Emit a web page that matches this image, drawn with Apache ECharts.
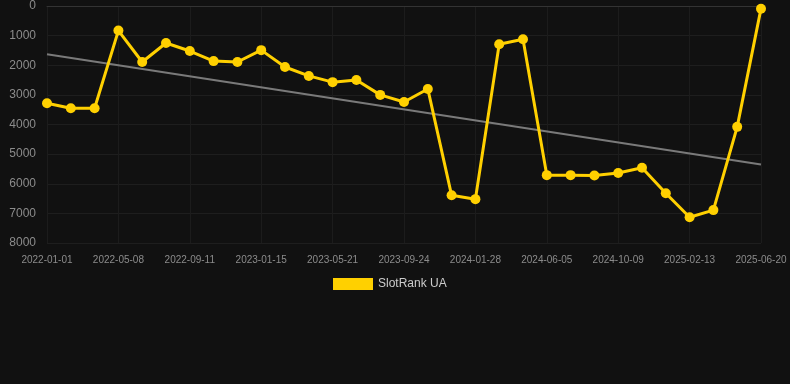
<!DOCTYPE html>
<html>
<head>
<meta charset="utf-8">
<script src="https://cdn.jsdelivr.net/npm/echarts@6/dist/echarts.min.js"></script>
<style>
html,body{margin:0;padding:0;background:#111111;}
#chart{width:790px;height:384px;}
</style>
</head>
<body>
<div id="chart"></div>
<script>
const categories = [
  '2022-01-01','2022-02-12','2022-03-26','2022-05-08','2022-06-19','2022-07-31',
  '2022-09-11','2022-10-23','2022-12-04','2023-01-15','2023-02-26','2023-04-09',
  '2023-05-21','2023-07-02','2023-08-13','2023-09-24','2023-11-05','2023-12-17',
  '2024-01-28','2024-03-10','2024-04-22','2024-06-05','2024-07-17','2024-08-28',
  '2024-10-09','2024-11-20','2025-01-01','2025-02-13','2025-03-27','2025-05-08',
  '2025-06-20'
];
const rankValues = [
  3280, 3450, 3450, 830, 1890, 1250, 1520, 1860, 1890, 1490, 2060, 2360,
  2570, 2500, 3000, 3240, 2800, 6390, 6520, 1290, 1120, 5710, 5710, 5720,
  5640, 5460, 6320, 7130, 6890, 4080, 90
];
const trendStart = 1630;
const trendEnd = 5350;
const seriesName = 'SlotRank UA';

const chart = echarts.init(document.getElementById('chart'), null, {renderer:'canvas'});
chart.setOption({
  backgroundColor: '#111111',
  animation: false,
  grid: {left: 47, right: 29, top: 6, bottom: 141, containLabel: false},
  legend: {
    data: [seriesName],
    top: 278,
    left: 333,
    padding: 0,
    icon: 'rect',
    itemWidth: 40,
    itemHeight: 12,
    itemGap: 10,
    textStyle: {color: '#cccccc', fontSize: 12, fontFamily: 'Liberation Sans, Arial, sans-serif'}
  },
  xAxis: {
    type: 'category',
    data: categories,
    boundaryGap: false,
    axisLine: {show: true, lineStyle: {color: '#333333'}},
    axisTick: {show: false},
    axisLabel: {interval: 2, color: '#8c8c8c', fontSize: 10, margin: 12, fontFamily: 'Liberation Sans, Arial, sans-serif'},
    splitLine: {show: true, interval: 2, lineStyle: {color: '#1c1c1c'}}
  },
  yAxis: {
    type: 'value',
    inverse: true,
    min: 0,
    max: 8000,
    interval: 1000,
    axisLine: {show: false},
    axisTick: {show: false},
    axisLabel: {color: '#8c8c8c', fontSize: 12, margin: 11, fontFamily: 'Liberation Sans, Arial, sans-serif',
      formatter: function (v) { return String(v); }},
    splitLine: {show: true, lineStyle: {color: '#1e1e1e'}}
  },
  series: [
    {
      name: seriesName,
      type: 'line',
      data: rankValues,
      symbol: 'circle',
      symbolSize: 10,
      lineStyle: {color: '#FFD000', width: 3},
      itemStyle: {color: '#FFD000'},
      z: 3
    },
    {
      name: 'trend',
      type: 'line',
      data: [[0, trendStart], [categories.length - 1, trendEnd]],
      symbol: 'none',
      lineStyle: {color: '#7a7a7a', width: 2},
      itemStyle: {color: '#7a7a7a'},
      z: 2
    }
  ]
});
</script>
</body>
</html>
